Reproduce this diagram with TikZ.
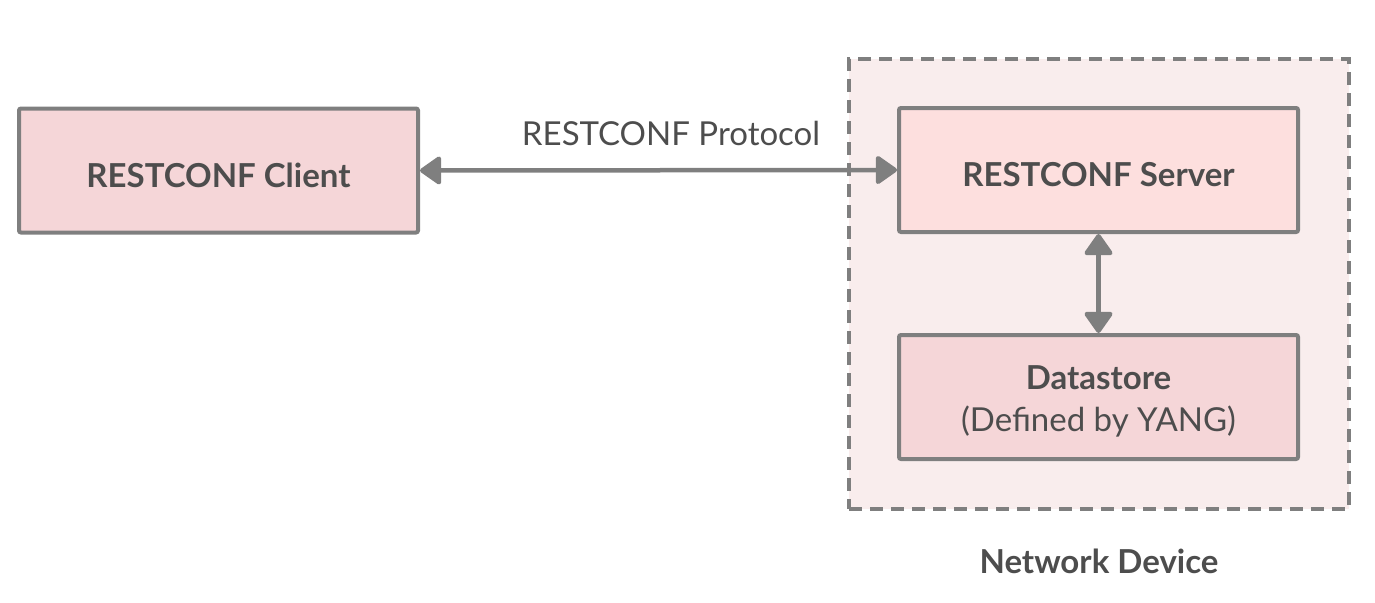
\documentclass[tikz,border=0pt]{standalone}
\usepackage{fontspec}
\setmainfont{Lato}
\usetikzlibrary{arrows.meta}
\definecolor{edge}{HTML}{7F7F7F}
\definecolor{txt}{HTML}{4D4D4D}
\definecolor{clientfill}{HTML}{F5D6D8}
\definecolor{serverfill}{HTML}{FDDFDE}
\definecolor{storefill}{HTML}{F5D6D8}
\definecolor{devfill}{HTML}{F9EDED}
\tikzset{
  box/.style={draw=edge, line width=4pt, rounded corners=2pt, minimum width=399pt, minimum height=124pt, inner sep=0pt, text=txt, align=center},
  conn/.style={draw=edge, line width=4.5pt, {Triangle[length=23pt,width=31pt,round]}-{Triangle[length=23pt,width=31pt,round]}},
  lbl/.style={text=txt, inner sep=0pt},
  big/.style={font=\fontsize{33}{40}\selectfont},
  bigb/.style={font=\fontsize{33}{40}\selectfont\bfseries},
  lowtext/.style={text height=33pt, text depth=0pt},
}
\begin{document}
\begin{tikzpicture}[x=1pt,y=-1pt]
\useasboundingbox (0,0) rectangle (1375,602);
\node[draw=edge, fill=devfill, line width=4pt, dash pattern=on 13pt off 8pt, minimum width=500pt, minimum height=450pt, inner sep=0pt] (dev) at (1099,284) {};
\node[box, fill=clientfill, bigb, lowtext] (client) at (218.5,170.5) {RESTCONF Client};
\node[box, fill=serverfill, bigb, lowtext] (server) at (1098.5,170) {RESTCONF Server};
\node[box, fill=storefill, big] (store) at (1098.5,397) {};
\node[lbl, bigb] (storet) at (1098.5,378) {Datastore};
\node[lbl, big] (storesub) at (1098.5,422) {(Defined by YANG)};
\node[lbl, big] (proto) at (671,133) {RESTCONF Protocol};
\node[lbl, bigb] (devlbl) at (1099,561) {Network Device};
\draw[conn] (client.east) -- (server.west);
\draw[conn] (server.south) -- (store.north);
\end{tikzpicture}
\end{document}
